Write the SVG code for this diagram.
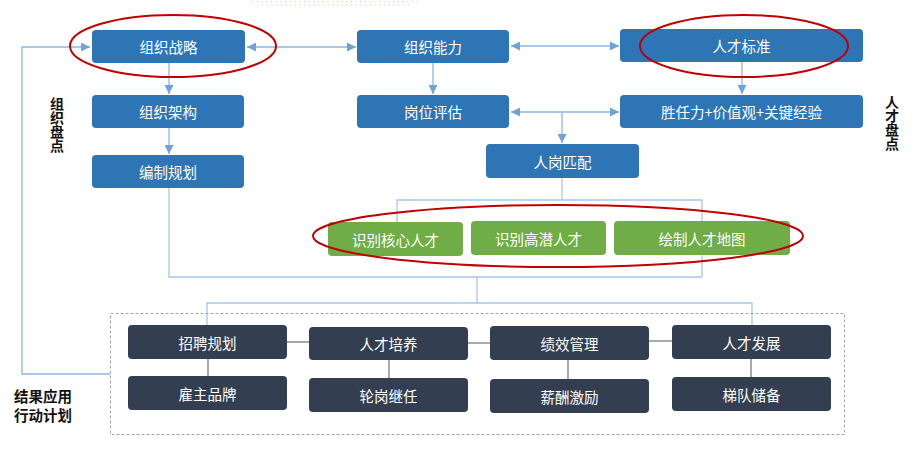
<svg xmlns="http://www.w3.org/2000/svg" width="915" height="451" viewBox="0 0 915 451">
<defs>
<marker id="ah" markerUnits="userSpaceOnUse" markerWidth="9" markerHeight="9" viewBox="0 0 8 8" refX="8" refY="4" orient="auto-start-reverse">
<path d="M0,0 L8,4 L0,8 z" fill="#6FA3D8"/>
</marker>
<style>
.b{fill:#2E75B6}
.g{fill:#70AD47}
.d{fill:#333F50}
.t{font-family:"Noto Sans CJK SC","Liberation Sans",sans-serif;font-size:14.5px;fill:#FFFFFF;text-anchor:middle;dominant-baseline:central}
.lab{font-family:"Noto Sans CJK SC","Liberation Sans",sans-serif;font-size:14.5px;font-weight:bold;fill:#111111}
.vl{font-family:"Noto Sans CJK SC","Liberation Sans",sans-serif;font-size:14px;font-weight:bold;fill:#111111;writing-mode:vertical-rl;text-anchor:start}
.c{fill:none;stroke:#A7C7E7;stroke-width:1.3}
.ca{fill:none;stroke:#8DB5DE;stroke-width:1.3}
.gr{fill:none;stroke:#8C8C8C;stroke-width:1.5}
.ring{fill:none;stroke:#C00000;stroke-width:2}
</style>
</defs>
<rect width="915" height="451" fill="#FFFFFF"/>
<g id="decor">
<line x1="252" y1="1.5" x2="418" y2="1.5" stroke="#EBC9A2" stroke-width="1.2" stroke-dasharray="1.2,3.5"/>
<line x1="262" y1="5" x2="410" y2="5" stroke="#EBC9A2" stroke-width="1.2" stroke-dasharray="1.2,3.5"/>
</g>
<g id="connectors">
<path class="ca" d="M110,374 H22 V47 H90" marker-end="url(#ah)"/>
<line class="ca" x1="247" y1="47" x2="356" y2="47" marker-start="url(#ah)" marker-end="url(#ah)"/>
<line class="ca" x1="511" y1="46" x2="619" y2="46" marker-start="url(#ah)" marker-end="url(#ah)"/>
<line class="ca" x1="169" y1="63" x2="169" y2="94" marker-end="url(#ah)"/>
<line class="ca" x1="169" y1="128" x2="169" y2="154" marker-end="url(#ah)"/>
<line class="ca" x1="433" y1="63" x2="433" y2="94" marker-end="url(#ah)"/>
<line class="ca" x1="742" y1="62" x2="742" y2="94" marker-end="url(#ah)"/>
<line class="ca" x1="511" y1="112" x2="619" y2="112" marker-start="url(#ah)" marker-end="url(#ah)"/>
<line class="ca" x1="562" y1="112" x2="562" y2="143" marker-end="url(#ah)"/>
<path class="c" d="M562,178 V200"/>
<path class="c" d="M397,222 V200 H702 V277"/>
<path class="c" d="M169,188 V277 H702"/>
<path class="c" d="M477,277 V303"/>
<path class="c" d="M207,325 V303 H752 V325"/>
<line class="gr" x1="287" y1="342" x2="309" y2="342"/>
<line class="gr" x1="468" y1="343" x2="490" y2="343"/>
<line class="gr" x1="649" y1="341" x2="672" y2="341"/>
<line class="gr" x1="208" y1="359" x2="208" y2="376"/>
<line class="gr" x1="389" y1="360" x2="389" y2="378"/>
<line class="gr" x1="568" y1="360" x2="568" y2="379"/>
<line class="gr" x1="751" y1="359" x2="751" y2="377"/>
</g>
<g id="frame">
<rect x="110.5" y="313.5" width="734" height="121" fill="none" stroke="#A6A6A6" stroke-width="1" stroke-dasharray="3,2"/>
</g>
<g id="n-zzzl"><rect class="b" x="92" y="30" width="153" height="33" rx="4"/><text class="t" x="168.5" y="46.5">组织战略</text></g>
<g id="n-zznl"><rect class="b" x="357" y="30" width="152" height="33" rx="4"/><text class="t" x="433" y="46.5">组织能力</text></g>
<g id="n-rcbz"><rect class="b" x="620" y="29" width="243" height="33" rx="4"/><text class="t" x="741.5" y="45.5">人才标准</text></g>
<g id="n-zzjg"><rect class="b" x="92" y="95" width="152" height="33" rx="4"/><text class="t" x="168" y="111.5">组织架构</text></g>
<g id="n-bzgh"><rect class="b" x="92" y="155" width="152" height="33" rx="4"/><text class="t" x="168" y="171.5">编制规划</text></g>
<g id="n-gwpg"><rect class="b" x="357" y="95" width="152" height="33" rx="4"/><text class="t" x="433" y="111.5">岗位评估</text></g>
<g id="n-srl"><rect class="b" x="620" y="95" width="243" height="33" rx="4"/><text class="t" x="741.5" y="111.5">胜任力+价值观+关键经验</text></g>
<g id="n-rgpp"><rect class="b" x="486" y="144" width="153" height="34" rx="4"/><text class="t" x="562.5" y="161">人岗匹配</text></g>
<g id="n-hxrc"><rect class="g" x="328" y="222" width="135" height="34" rx="4"/><text class="t" x="395.5" y="239">识别核心人才</text></g>
<g id="n-gqrc"><rect class="g" x="471" y="221" width="135" height="34" rx="4"/><text class="t" x="538.5" y="238">识别高潜人才</text></g>
<g id="n-rcdt"><rect class="g" x="614" y="221" width="176" height="34" rx="4"/><text class="t" x="702" y="238">绘制人才地图</text></g>
<g id="n-zpgh"><rect class="d" x="128" y="325" width="159" height="34" rx="4"/><text class="t" x="207.5" y="342">招聘规划</text></g>
<g id="n-gzpp"><rect class="d" x="128" y="376" width="159" height="34" rx="4"/><text class="t" x="207.5" y="393">雇主品牌</text></g>
<g id="n-rcpy"><rect class="d" x="309" y="327" width="159" height="33" rx="4"/><text class="t" x="388.5" y="343.5">人才培养</text></g>
<g id="n-lgjr"><rect class="d" x="309" y="378" width="159" height="34" rx="4"/><text class="t" x="388.5" y="395">轮岗继任</text></g>
<g id="n-jxgl"><rect class="d" x="490" y="326" width="159" height="34" rx="4"/><text class="t" x="569.5" y="343">绩效管理</text></g>
<g id="n-xcjl"><rect class="d" x="490" y="379" width="159" height="34" rx="4"/><text class="t" x="569.5" y="396">薪酬激励</text></g>
<g id="n-rcfz"><rect class="d" x="672" y="325" width="159" height="34" rx="4"/><text class="t" x="751.5" y="342">人才发展</text></g>
<g id="n-tdcb"><rect class="d" x="672" y="377" width="159" height="34" rx="4"/><text class="t" x="751.5" y="394">梯队储备</text></g>
<g id="highlights">
<ellipse class="ring" cx="173" cy="46" rx="103" ry="31"/>
<ellipse class="ring" cx="744" cy="46" rx="104" ry="31"/>
<ellipse class="ring" cx="558" cy="236" rx="245" ry="31"/>
</g>
<g id="labels">
<text class="vl" x="57" y="97">组织盘点</text>
<text class="vl" x="892" y="95">人才盘点</text>
<text class="lab" x="14" y="402">结果应用</text>
<text class="lab" x="14" y="421">行动计划</text>
</g>
</svg>
